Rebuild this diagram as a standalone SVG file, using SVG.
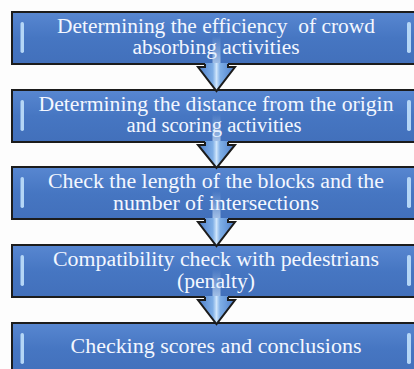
<svg xmlns="http://www.w3.org/2000/svg" width="414" height="369" viewBox="0 0 414 369">
<defs>
<linearGradient id="boxg" x1="0" y1="0" x2="0" y2="1">
<stop offset="0" stop-color="#5887d1"/>
<stop offset="0.5" stop-color="#4676c2"/>
<stop offset="1" stop-color="#4270bb"/>
</linearGradient>
<linearGradient id="arrg" x1="0" y1="0" x2="1" y2="0">
<stop offset="0" stop-color="#4c7dca"/>
<stop offset="0.4" stop-color="#7eaee6"/>
<stop offset="0.5" stop-color="#cfe5fb"/>
<stop offset="0.6" stop-color="#7eaee6"/>
<stop offset="1" stop-color="#4c7dca"/>
</linearGradient>
<linearGradient id="streak" x1="0" y1="0" x2="0" y2="1">
<stop offset="0" stop-color="#cfe5fb" stop-opacity="0"/>
<stop offset="1" stop-color="#cfe5fb" stop-opacity="0.7"/>
</linearGradient>
</defs>
<style>
.box{fill:url(#boxg);stroke:#1c1c1c;stroke-width:2}
.bar{fill:#b4d6f6}
.t{font-family:"Liberation Serif","Times New Roman",serif;font-size:20px;fill:#f3f7ff;text-anchor:middle}
.af{fill:url(#arrg)}
.ao{fill:none;stroke:#1c1c1c;stroke-width:2;stroke-linejoin:miter}
.st{fill:url(#streak)}
</style>
<rect width="414" height="369" fill="#fdfdfd"/>
<g id="node1">
<rect class="box" x="12" y="12" width="410" height="52"/>
<rect class="bar" x="20.5" y="22" width="3.5" height="31" rx="1.7"/>
<rect class="bar" x="407" y="22" width="4" height="31" rx="1.8"/>
<text class="t" x="216" y="33" xml:space="preserve" textLength="318" lengthAdjust="spacingAndGlyphs">Determining the efficiency  of crowd</text>
<text class="t" x="216" y="54" textLength="167" lengthAdjust="spacingAndGlyphs">absorbing activities</text>
</g>
<g id="node2">
<rect class="box" x="12" y="90" width="410" height="52"/>
<rect class="bar" x="20.5" y="100" width="3.5" height="31" rx="1.7"/>
<rect class="bar" x="407" y="100" width="4" height="31" rx="1.8"/>
<text class="t" x="216" y="111" textLength="355" lengthAdjust="spacingAndGlyphs">Determining the distance from the origin</text>
<text class="t" x="214" y="132" textLength="175" lengthAdjust="spacingAndGlyphs">and scoring activities</text>
</g>
<g id="node3">
<rect class="box" x="12" y="167" width="410" height="52"/>
<rect class="bar" x="20.5" y="177" width="3.5" height="31" rx="1.7"/>
<rect class="bar" x="407" y="177" width="4" height="31" rx="1.8"/>
<text class="t" x="216" y="188" textLength="336" lengthAdjust="spacingAndGlyphs">Check the length of the blocks and the</text>
<text class="t" x="216" y="209.5" textLength="206" lengthAdjust="spacingAndGlyphs">number of intersections</text>
</g>
<g id="node4">
<rect class="box" x="12" y="245" width="410" height="52"/>
<rect class="bar" x="20.5" y="255" width="3.5" height="31" rx="1.7"/>
<rect class="bar" x="407" y="255" width="4" height="31" rx="1.8"/>
<text class="t" x="216" y="266" textLength="326" lengthAdjust="spacingAndGlyphs">Compatibility check with pedestrians</text>
<text class="t" x="216" y="287.5" textLength="78" lengthAdjust="spacingAndGlyphs">(penalty)</text>
</g>
<g id="node5">
<rect class="box" x="12" y="323" width="410" height="52"/>
<rect class="bar" x="20.5" y="333" width="3.5" height="31" rx="1.7"/>
<rect class="bar" x="407" y="333" width="4" height="31" rx="1.8"/>
<text class="t" x="216" y="353" textLength="291" lengthAdjust="spacingAndGlyphs">Checking scores and conclusions</text>
</g>
<g id="connectors">
<g>
<rect class="st" x="212.5" y="36" width="8" height="28"/>
<polygon class="af" points="205,63 205,67 198,67 216.5,91 235,67 228,67 228,63"/>
<polyline class="ao" points="205,64 205,67 198,67 216.5,91 235,67 228,67 228,64"/>
</g>
<g>
<rect class="st" x="212.5" y="114" width="8" height="28"/>
<polygon class="af" points="205,141 205,145 198,145 216.5,168 235,145 228,145 228,141"/>
<polyline class="ao" points="205,142 205,145 198,145 216.5,168 235,145 228,145 228,142"/>
</g>
<g>
<rect class="st" x="212.5" y="191" width="8" height="28"/>
<polygon class="af" points="205,218 205,222 198,222 216.5,246 235,222 228,222 228,218"/>
<polyline class="ao" points="205,219 205,222 198,222 216.5,246 235,222 228,222 228,219"/>
</g>
<g>
<rect class="st" x="212.5" y="269" width="8" height="28"/>
<polygon class="af" points="205,296 205,300 198,300 216.5,324 235,300 228,300 228,296"/>
<polyline class="ao" points="205,297 205,300 198,300 216.5,324 235,300 228,300 228,297"/>
</g>
</g>
</svg>
